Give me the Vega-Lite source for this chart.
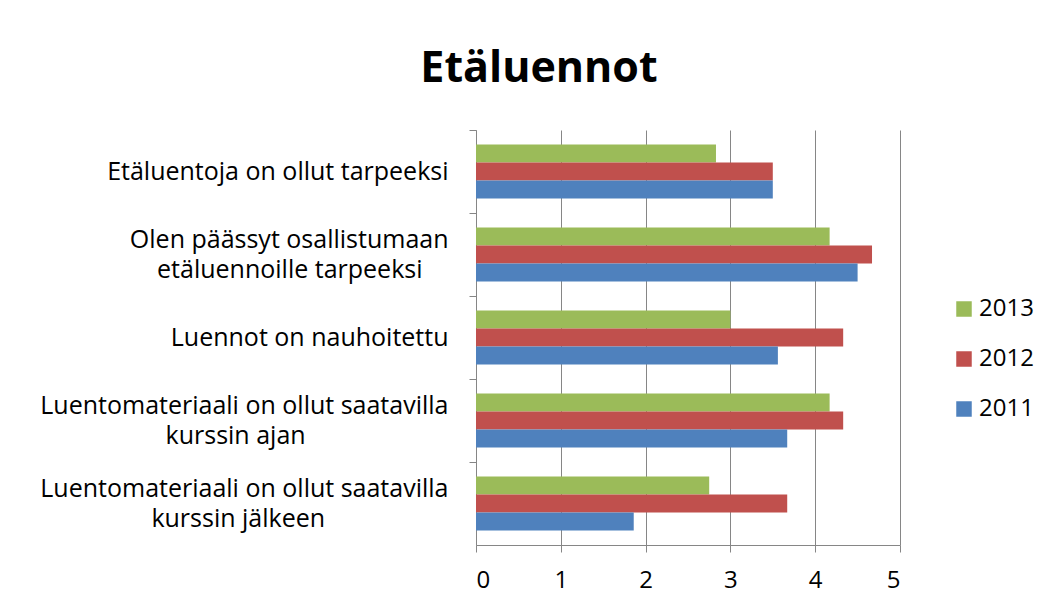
{
  "$schema": "https://vega.github.io/schema/vega-lite/v6.json",
  "width": 424,
  "height": 415,
  "autosize": {"type": "none"},
  "padding": {"left": 476, "top": 130, "right": 156, "bottom": 60},
  "background": "white",
  "title": {
    "text": "Etäluennot",
    "font": "Open Sans",
    "fontSize": 43,
    "fontWeight": "bold",
    "color": "#000000",
    "anchor": "middle",
    "dx": -149,
    "offset": 39
  },
  "data": {
    "values": [
      {"kysymys": "Etäluentoja on ollut tarpeeksi", "vuosi": "2013", "arvo": 2.83},
      {"kysymys": "Etäluentoja on ollut tarpeeksi", "vuosi": "2012", "arvo": 3.5},
      {"kysymys": "Etäluentoja on ollut tarpeeksi", "vuosi": "2011", "arvo": 3.5},
      {"kysymys": "Olen päässyt osallistumaan etäluennoille tarpeeksi", "vuosi": "2013", "arvo": 4.17},
      {"kysymys": "Olen päässyt osallistumaan etäluennoille tarpeeksi", "vuosi": "2012", "arvo": 4.67},
      {"kysymys": "Olen päässyt osallistumaan etäluennoille tarpeeksi", "vuosi": "2011", "arvo": 4.5},
      {"kysymys": "Luennot on nauhoitettu", "vuosi": "2013", "arvo": 3.0},
      {"kysymys": "Luennot on nauhoitettu", "vuosi": "2012", "arvo": 4.33},
      {"kysymys": "Luennot on nauhoitettu", "vuosi": "2011", "arvo": 3.56},
      {"kysymys": "Luentomateriaali on ollut saatavilla kurssin ajan", "vuosi": "2013", "arvo": 4.17},
      {"kysymys": "Luentomateriaali on ollut saatavilla kurssin ajan", "vuosi": "2012", "arvo": 4.33},
      {"kysymys": "Luentomateriaali on ollut saatavilla kurssin ajan", "vuosi": "2011", "arvo": 3.67},
      {"kysymys": "Luentomateriaali on ollut saatavilla kurssin jälkeen", "vuosi": "2013", "arvo": 2.75},
      {"kysymys": "Luentomateriaali on ollut saatavilla kurssin jälkeen", "vuosi": "2012", "arvo": 3.67},
      {"kysymys": "Luentomateriaali on ollut saatavilla kurssin jälkeen", "vuosi": "2011", "arvo": 1.86}
    ]
  },
  "mark": {"type": "bar"},
  "encoding": {
    "y": {
      "field": "kysymys",
      "type": "nominal",
      "sort": [
        "Etäluentoja on ollut tarpeeksi",
        "Olen päässyt osallistumaan etäluennoille tarpeeksi",
        "Luennot on nauhoitettu",
        "Luentomateriaali on ollut saatavilla kurssin ajan",
        "Luentomateriaali on ollut saatavilla kurssin jälkeen"
      ],
      "scale": {"paddingInner": 0.35, "paddingOuter": 0.175},
      "axis": {
        "title": null,
        "tickOffset": -41.5,
        "labelOffset": {
          "condition": {
            "test": "datum.value == 'Olen päässyt osallistumaan etäluennoille tarpeeksi' || indexof(datum.value, 'Luentomateriaali') == 0",
            "value": 26
          },
          "value": 41.5
        },
        "domainColor": "#868686",
        "tickColor": "#868686",
        "tickSize": 7,
        "labelPadding": 21,
        "labelFont": "Open Sans",
        "labelFontSize": 25,
        "labelColor": "#000000",
        "labelLineHeight": 30,
        "labelLimit": 0,
        "labelExpr": "datum.value == 'Olen päässyt osallistumaan etäluennoille tarpeeksi' ? ['Olen päässyt osallistumaan', 'etäluennoille tarpeeksi' + pad('', 4, '\u00a0') + '\u200b'] : datum.value == 'Luentomateriaali on ollut saatavilla kurssin ajan' ? ['Luentomateriaali on ollut saatavilla', 'kurssin ajan' + pad('', 22, '\u00a0') + '\u200b'] : datum.value == 'Luentomateriaali on ollut saatavilla kurssin jälkeen' ? ['Luentomateriaali on ollut saatavilla', 'kurssin jälkeen' + pad('', 19, '\u00a0') + '\u200b'] : datum.value"
      }
    },
    "yOffset": {
      "field": "vuosi",
      "type": "nominal",
      "sort": ["2013", "2012", "2011"],
      "scale": {"paddingInner": 0, "paddingOuter": 0}
    },
    "x": {
      "field": "arvo",
      "type": "quantitative",
      "scale": {"domain": [0, 5]},
      "axis": {
        "title": null,
        "values": [0, 1, 2, 3, 4, 5],
        "grid": true,
        "gridColor": "#868686",
        "gridOpacity": 1,
        "domainColor": "#868686",
        "tickColor": "#868686",
        "tickSize": 7,
        "labelPadding": 16,
        "labelFont": "Open Sans",
        "labelFontSize": 24,
        "labelColor": "#000000"
      }
    },
    "color": {
      "field": "vuosi",
      "type": "nominal",
      "scale": {"domain": ["2013", "2012", "2011"], "range": ["#9BBB59", "#C0504D", "#4F81BD"]},
      "legend": {
        "title": null,
        "orient": "none",
        "legendX": 476,
        "legendY": 167,
        "padding": 0,
        "symbolType": "square",
        "symbolSize": 240,
        "symbolStrokeWidth": 0,
        "labelFont": "Open Sans",
        "labelFontSize": 24,
        "labelColor": "#000000",
        "labelOffset": 3,
        "rowPadding": 26
      }
    }
  },
  "config": {"view": {"stroke": null}}
}
